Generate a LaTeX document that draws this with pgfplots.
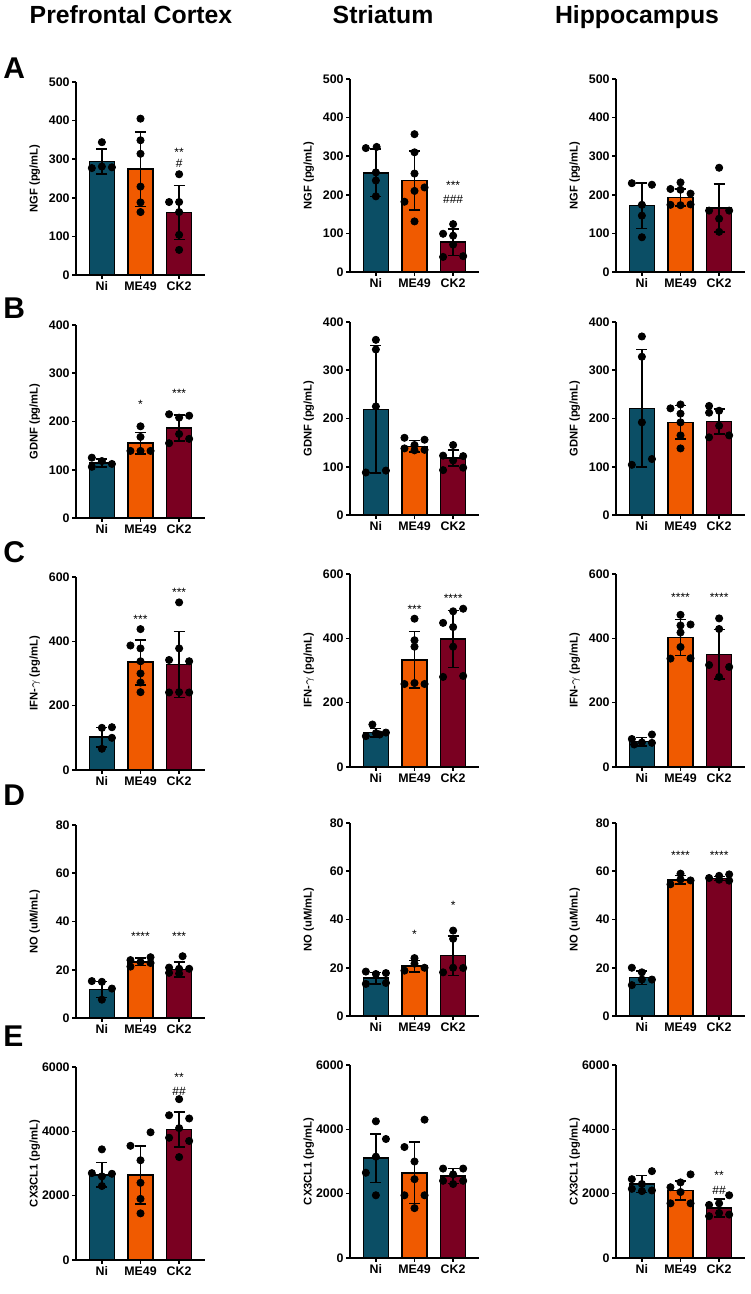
\documentclass[border=0pt]{standalone}
\usepackage{fontspec}
\setmainfont{Liberation Sans}
\usepackage{pgfplots}
\pgfplotsset{compat=1.18}
\definecolor{cNi}{RGB}{11,78,101}
\definecolor{cME}{RGB}{240,90,0}
\definecolor{cCK}{RGB}{122,0,33}
\pgfplotsset{
 panel/.style={scale only axis, width=64.5pt, height=96.5pt, anchor=south west,
  xmin=-0.67, xmax=2.67, ymin=0, clip=false,
  axis lines*=left, xtick pos=left, ytick pos=left,
  xtick={0,1,2}, xticklabels={Ni,ME49,CK2},
  tick align=outside, major tick length=2pt,
  every tick/.style={black, line width=0.8pt},
  axis line style={black, line width=0.8pt},
  tick label style={font=\bfseries\fontsize{6.2}{7}\selectfont, inner sep=1pt},
  yticklabel style={/pgf/number format/assume math mode=true, /pgf/number format/1000 sep={}},
  scaled y ticks=false,
  every axis y label/.style={at={(axis description cs:-0.32,0.5)}, rotate=90, anchor=center, font=\bfseries\fontsize{5.6}{6.5}\selectfont},
 },
 gbar/.style={ybar, bar width=0.65, fill=#1, draw=black, line width=0.8pt,
  /pgfplots/error bars/y dir=both, /pgfplots/error bars/y explicit,
  /pgfplots/error bars/error bar style={line width=0.8pt, black},
  /pgfplots/error bars/error mark options={rotate=90, mark size=2.8pt, line width=0.8pt, black}},
 pts/.style={only marks, mark=*, mark size=1.8pt, black, mark options={fill=black, draw=black}},
}
\tikzset{sig/.style={font=\fontsize{6}{6}\selectfont, inner sep=0pt}}
\begin{document}
\begin{tikzpicture}
\path[use as bounding box] (0,0) rectangle (375pt,647pt);
% titles
\node[anchor=base, font=\bfseries\fontsize{12.4}{14}\selectfont] at (65.5pt,635pt) {Prefrontal Cortex};
\node[anchor=base, font=\bfseries\fontsize{12.4}{14}\selectfont] at (191.5pt,635pt) {Striatum};
\node[anchor=base, font=\bfseries\fontsize{12.4}{14}\selectfont] at (318.5pt,635pt) {Hippocampus};
\node[anchor=base west, inner sep=0pt, font=\bfseries\fontsize{15}{16}\selectfont] at (1.5pt,607.5pt) {A};
\node[anchor=base west, inner sep=0pt, font=\bfseries\fontsize{15}{16}\selectfont] at (1.5pt,487.5pt) {B};
\node[anchor=base west, inner sep=0pt, font=\bfseries\fontsize{15}{16}\selectfont] at (1.5pt,365.5pt) {C};
\node[anchor=base west, inner sep=0pt, font=\bfseries\fontsize{15}{16}\selectfont] at (1.5pt,244pt) {D};
\node[anchor=base west, inner sep=0pt, font=\bfseries\fontsize{15}{16}\selectfont] at (1.5pt,123.5pt) {E};

% ===== Row A: NGF =====
\begin{axis}[panel, at={(38pt,509.5pt)}, ymax=500, ytick distance=100, ylabel={NGF (pg/mL)}]
\addplot[gbar=cNi] coordinates {(0,294) +- (0,33)};
\addplot[gbar=cME] coordinates {(1,274) +- (0,97)};
\addplot[gbar=cCK] coordinates {(2,162) +- (0,70)};
\addplot[pts] coordinates {(0,344) (-0.26,277) (0,281) (0.26,279)
 (1,405) (1,349) (1,314) (1,229) (1,188) (1,163)
 (2,261) (1.74,189) (2,189) (2,163) (2,104) (2,65)};
\node[sig] at (axis cs:2,318) {**};
\node[sig] at (axis cs:2,288) {\#};
\end{axis}
\begin{axis}[panel, at={(175pt,511pt)}, ymax=500, ytick distance=100, ylabel={NGF (pg/mL)}]
\addplot[gbar=cNi] coordinates {(0,257) +- (0,61)};
\addplot[gbar=cME] coordinates {(1,237) +- (0,77)};
\addplot[gbar=cCK] coordinates {(2,77) +- (0,34)};
\addplot[pts] coordinates {(-0.26,321) (0.02,324) (0,258) (0,237) (0,196)
 (1,357) (1,310) (1,255) (1.26,219) (1,210) (0.74,182) (1,131)
 (2,124) (1.74,99) (2,94) (2,71) (1.74,39) (2.26,41)};
\node[sig] at (axis cs:2,224) {***};
\node[sig] at (axis cs:2,187) {\#\#\#};
\end{axis}
\begin{axis}[panel, at={(308pt,511pt)}, ymax=500, ytick distance=100, ylabel={NGF (pg/mL)}]
\addplot[gbar=cNi] coordinates {(0,172) +- (0,59)};
\addplot[gbar=cME] coordinates {(1,193) +- (0,22)};
\addplot[gbar=cCK] coordinates {(2,166) +- (0,62)};
\addplot[pts] coordinates {(-0.26,230) (0.26,226) (0,174) (0,146) (0,90)
 (1,232) (0.74,215) (1,213) (1.26,203) (0.74,174) (1,173) (1.26,175)
 (2,270) (1.74,159) (2.26,159) (2,138) (2,104)};
\end{axis}

% ===== Row B: GDNF =====
\begin{axis}[panel, at={(38pt,388pt)}, ymax=400, ytick distance=100, ylabel={GDNF (pg/mL)}]
\addplot[gbar=cNi] coordinates {(0,114) +- (0,8)};
\addplot[gbar=cME] coordinates {(1,155) +- (0,22)};
\addplot[gbar=cCK] coordinates {(2,187) +- (0,27)};
\addplot[pts] coordinates {(-0.26,125) (0,118) (0.26,112) (-0.26,106)
 (1,190) (1,168) (0.74,139) (1,139) (1.26,139)
 (1.74,215) (2,208) (2.26,212) (2,174) (1.74,155) (2.26,164)};
\node[sig] at (axis cs:1,235) {*};
\node[sig] at (axis cs:2,259) {***};
\end{axis}
\begin{axis}[panel, at={(175pt,389.5pt)}, ymax=400, ytick distance=100, ylabel={GDNF (pg/mL)}]
\addplot[gbar=cNi] coordinates {(0,219) +- (0,132)};
\addplot[gbar=cME] coordinates {(1,142) +- (0,12)};
\addplot[gbar=cCK] coordinates {(2,118) +- (0,17)};
\addplot[pts] coordinates {(0,363) (0,343) (0,225) (-0.26,88) (0.26,92)
 (0.74,160) (1.26,156) (1,145) (0.74,138) (1,134) (1.26,135)
 (2,145) (1.74,123) (2.26,122) (2,113) (1.74,93) (2.26,98)};
\end{axis}
\begin{axis}[panel, at={(308pt,389.5pt)}, ymax=400, ytick distance=100, ylabel={GDNF (pg/mL)}]
\addplot[gbar=cNi] coordinates {(0,221) +- (0,122)};
\addplot[gbar=cME] coordinates {(1,192) +- (0,35)};
\addplot[gbar=cCK] coordinates {(2,194) +- (0,26)};
\addplot[pts] coordinates {(0,370) (0,328) (0,192) (-0.26,104) (0.26,116)
 (1,229) (0.74,221) (1,210) (1,192) (1,165) (1,138)
 (1.74,226) (1.74,212) (2,216) (2,185) (1.74,161) (2.26,165)};
\end{axis}

% ===== Row C: IFN-gamma =====
\begin{axis}[panel, at={(38pt,262pt)}, ymax=600, ytick distance=200, ylabel={IFN-$\gamma$ (pg/mL)}]
\addplot[gbar=cNi] coordinates {(0,102) +- (0,30)};
\addplot[gbar=cME] coordinates {(1,335) +- (0,70)};
\addplot[gbar=cCK] coordinates {(2,328) +- (0,103)};
\addplot[pts] coordinates {(0,131) (0.26,133) (0.26,100) (0,66)
 (1,438) (0.74,387) (1,378) (1,338) (1,300) (1,272) (1,242)
 (2,521) (2,378) (1.74,342) (2.26,338) (1.74,241) (2,242) (2.26,241)};
\node[sig] at (axis cs:1,468) {***};
\node[sig] at (axis cs:2,552) {***};
\end{axis}
\begin{axis}[panel, at={(175pt,263.5pt)}, ymax=600, ytick distance=200, ylabel={IFN-$\gamma$ (pg/mL)}]
\addplot[gbar=cNi] coordinates {(0,107) +- (0,13)};
\addplot[gbar=cME] coordinates {(1,333) +- (0,88)};
\addplot[gbar=cCK] coordinates {(2,398) +- (0,89)};
\addplot[pts] coordinates {(-0.09,132) (-0.26,96) (0,105) (0.26,107) (0.1,101)
 (1,461) (1,394) (1,374) (0.74,258) (1,261) (1.26,258)
 (2.26,492) (2,484) (1.74,448) (2,435) (2,374) (1.74,280) (2.26,283)};
\node[sig] at (axis cs:1,489) {***};
\node[sig] at (axis cs:2,525) {****};
\end{axis}
\begin{axis}[panel, at={(308pt,263.5pt)}, ymax=600, ytick distance=200, ylabel={IFN-$\gamma$ (pg/mL)}]
\addplot[gbar=cNi] coordinates {(0,79) +- (0,13)};
\addplot[gbar=cME] coordinates {(1,402) +- (0,56)};
\addplot[gbar=cCK] coordinates {(2,350) +- (0,77)};
\addplot[pts] coordinates {(-0.26,87) (0.26,101) (0,76) (0.26,75) (-0.2,70)
 (1,473) (1,440) (1.26,443) (1,418) (1,373) (0.74,337) (1.26,338)
 (2,462) (2,429) (1.74,317) (2.26,311) (2,280)};
\node[sig] at (axis cs:1,527) {****};
\node[sig] at (axis cs:2,527) {****};
\end{axis}

% ===== Row D: NO =====
\begin{axis}[panel, at={(38pt,138pt)}, ymax=80, ytick distance=20, ylabel={NO (uM/mL)}]
\addplot[gbar=cNi] coordinates {(0,11.8) +- (0,3.3)};
\addplot[gbar=cME] coordinates {(1,23.3) +- (0,1.5)};
\addplot[gbar=cCK] coordinates {(2,20.1) +- (0,3.0)};
\addplot[pts] coordinates {(-0.26,15.3) (0,15.0) (0.26,12.2) (0,7.6)
 (0.74,21.3) (0.74,24.0) (1,23.2) (1.26,25.2) (1.26,22.8)
 (2.09,25.6) (1.74,20.9) (2,20.4) (2.26,20.4) (1.74,18.7) (2,18.4)};
\node[sig] at (axis cs:1,33.9) {****};
\node[sig] at (axis cs:2,33.9) {***};
\end{axis}
\begin{axis}[panel, at={(175pt,139pt)}, ymax=80, ytick distance=20, ylabel={NO (uM/mL)}]
\addplot[gbar=cNi] coordinates {(0,15.7) +- (0,2.4)};
\addplot[gbar=cME] coordinates {(1,20.6) +- (0,2.4)};
\addplot[gbar=cCK] coordinates {(2,25.0) +- (0,8.2)};
\addplot[pts] coordinates {(-0.26,18.4) (0,17.4) (0.26,17.8) (-0.26,13.3) (0.26,13.7)
 (1,24.0) (1,21.7) (0.74,18.8) (1.26,20.0)
 (2,35.4) (2,32.0) (1.74,18.1) (2,20.0) (2.26,19.9)};
\node[sig] at (axis cs:1,33.7) {*};
\node[sig] at (axis cs:2,45.9) {*};
\end{axis}
\begin{axis}[panel, at={(308pt,139pt)}, ymax=80, ytick distance=20, ylabel={NO (uM/mL)}]
\addplot[gbar=cNi] coordinates {(0,15.9) +- (0,2.8)};
\addplot[gbar=cME] coordinates {(1,56.4) +- (0,1.8)};
\addplot[gbar=cCK] coordinates {(2,57.0) +- (0,0.8)};
\addplot[pts] coordinates {(-0.26,20.0) (0,18.1) (0,15.1) (-0.26,12.8) (0.26,15.1)
 (1,59.0) (0.74,54.6) (1,56.6) (1.26,56.2)
 (1.74,57.2) (2,58.1) (2.26,58.7) (2.26,56.1) (2,56.5)};
\node[sig] at (axis cs:1,66.4) {****};
\node[sig] at (axis cs:2,66.4) {****};
\end{axis}

% ===== Row E: CX3CL1 =====
\begin{axis}[panel, at={(38pt,17pt)}, ymax=6000, ytick distance=2000, ylabel={CX3CL1 (pg/mL)}]
\addplot[gbar=cNi] coordinates {(0,2650) +- (0,380)};
\addplot[gbar=cME] coordinates {(1,2650) +- (0,900)};
\addplot[gbar=cCK] coordinates {(2,4060) +- (0,540)};
\addplot[pts] coordinates {(0,3440) (-0.26,2700) (0.26,2680) (0,2600) (0,2300)
 (1.26,3970) (0.74,3550) (1,3100) (1,2400) (1,1900) (1,1450)
 (2,5000) (1.74,4500) (2.26,4400) (2,4100) (1.74,3800) (2.26,3700) (2,3200)};
\node[sig] at (axis cs:2,5690) {**};
\node[sig] at (axis cs:2,5250) {\#\#};
\end{axis}
\begin{axis}[panel, at={(175pt,18pt)}, ymax=6000, ytick distance=2000, ylabel={CX3CL1 (pg/mL)}]
\addplot[gbar=cNi] coordinates {(0,3100) +- (0,750)};
\addplot[gbar=cME] coordinates {(1,2650) +- (0,950)};
\addplot[gbar=cCK] coordinates {(2,2550) +- (0,230)};
\addplot[pts] coordinates {(0,4250) (0.26,3700) (0,3150) (-0.26,2650) (0,1950)
 (1.26,4300) (0.74,3450) (1,3000) (1,2450) (0.74,1950) (1.26,1950) (1,1550)
 (1.74,2780) (2.26,2780) (2,2600) (1.74,2400) (2.26,2400) (2,2300)};
\end{axis}
\begin{axis}[panel, at={(308pt,18pt)}, ymax=6000, ytick distance=2000, ylabel={CX3CL1 (pg/mL)}]
\addplot[gbar=cNi] coordinates {(0,2300) +- (0,260)};
\addplot[gbar=cME] coordinates {(1,2100) +- (0,300)};
\addplot[gbar=cCK] coordinates {(2,1560) +- (0,280)};
\addplot[pts] coordinates {(0.26,2700) (-0.26,2450) (0,2300) (-0.26,2150) (0.26,2100) (0,2080)
 (1.26,2600) (1,2350) (0.74,2200) (1,2050) (0.74,1700) (1.26,1700)
 (2.26,1950) (2,1700) (1.74,1650) (2,1400) (1.74,1300) (2.26,1350)};
\node[sig] at (axis cs:2,2560) {**};
\node[sig] at (axis cs:2,2100) {\#\#};
\end{axis}
\end{tikzpicture}
\end{document}
